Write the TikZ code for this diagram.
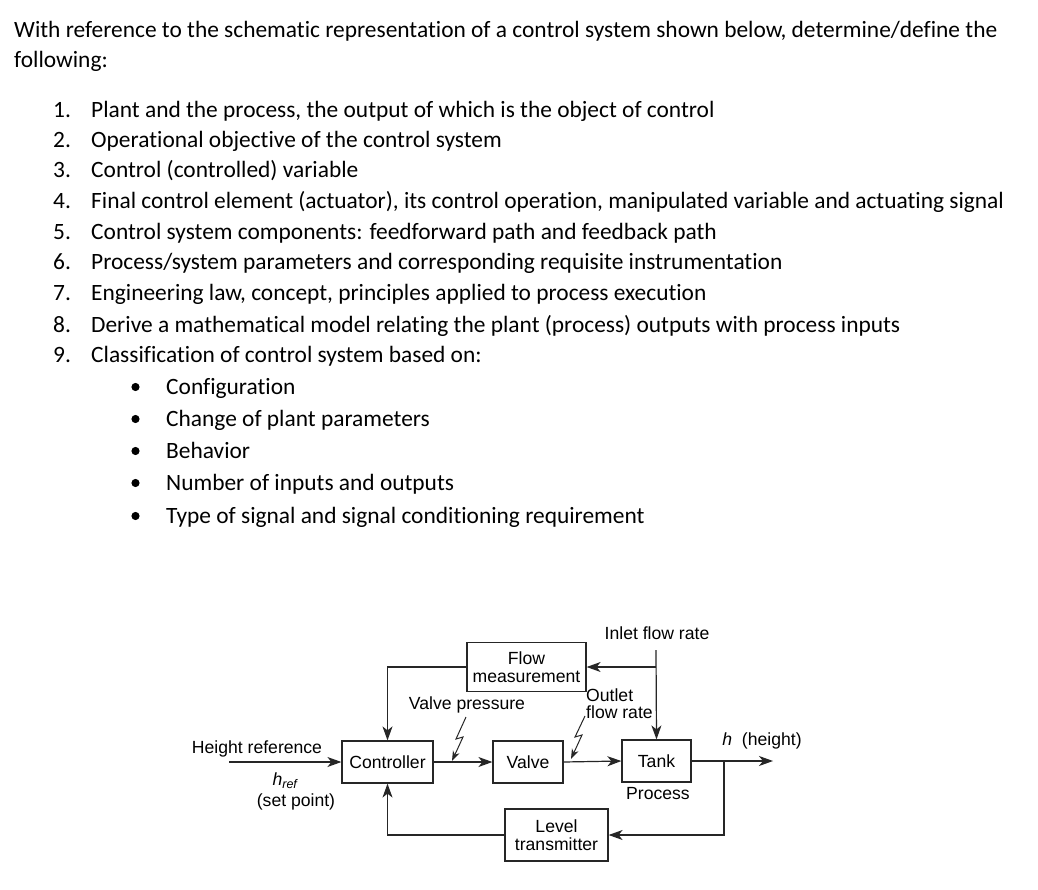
\documentclass[tikz,border=0pt]{standalone}
\usepackage{fontspec}
\setmainfont{Carlito}[Ligatures=NoCommon]
\newfontfamily\diafont{Liberation Sans}
\usetikzlibrary{arrows.meta}
\begin{document}
\begin{tikzpicture}[x=1pt,y=-1pt,
  body/.style={anchor=base west,inner sep=0pt,font=\fontsize{23.4}{28}\selectfont},
  dtext/.style={inner sep=0pt,font=\diafont\fontsize{17.6}{20}\selectfont,text=black,align=center},
  blk/.style={draw=black!85,line width=1.2pt,inner sep=0pt,font=\diafont\fontsize{17.6}{20}\selectfont,text=black,align=center},
  ln/.style={draw=black!85,line width=1.2pt},
  arr/.style={ln,-{Stealth[length=14pt,width=10pt,inset=4pt]}},
  zap/.style={draw=black!85,line width=1pt,-{Stealth[length=10pt,width=7pt,inset=3pt]}}]
\useasboundingbox[fill=white] (0,0) rectangle (1038,890);
% ---- question text ----
\node[body] (t1) at (14,38) {With reference to the schematic representation of a control system shown below, determine/define the};
\node[body] (t2) at (14,68) {following:};
\foreach \n/\y/\s in {
 1/118/{Plant and the process, the output of which is the object of control},
 2/148/{Operational objective of the control system},
 3/178/{Control (controlled) variable},
 4/209/{Final control element (actuator), its control operation, manipulated variable and actuating signal},
 5/240/{Control system components: feedforward path and feedback path},
 6/270/{Process/system parameters and corresponding requisite instrumentation},
 7/301/{Engineering law, concept, principles applied to process execution},
 8/332/{Derive a mathematical model relating the plant (process) outputs with process inputs},
 9/362/{Classification of control system based on:}}{
  \node[body] (n\n) at (53,\y) {\n.};
  \node[body] (i\n) at (91,\y) {\s};
}
\foreach \k/\y/\s in {
 1/394/{Configuration},
 2/426/{Change of plant parameters},
 3/458/{Behavior},
 4/490/{Number of inputs and outputs},
 5/523/{Type of signal and signal conditioning requirement}}{
  \fill (135.5,\y-7) circle (4.1);
  \node[body] (b\k) at (166,\y) {\s};
}
% ---- diagram ----
\node[blk,minimum width=91pt,minimum height=42pt] (ctrl) at (387.5,762) {Controller};
\node[blk,minimum width=70pt,minimum height=42pt] (valve) at (528,762) {Valve};
\node[blk,minimum width=69pt,minimum height=42pt] (tank) at (656.5,761) {Tank};
\node[blk,minimum width=119pt,minimum height=49pt] (flow) at (526.5,667) {Flow\\[-2pt]measurement};
\node[blk,minimum width=103pt,minimum height=52pt] (lt) at (556.5,835) {Level\\[-2pt]transmitter};

\node[dtext] (lhr) at (257,749) {Height reference};
\node[dtext] (lhref) at (285,781) {\itshape h\textsubscript{\fontsize{12.5}{12}\selectfont ref}};
\node[dtext] (lsp) at (296,802) {(set point)};
\node[dtext] (lvp) at (467,705) {Valve pressure};
\node[dtext] (lin) at (657,633) {Inlet flow rate};
\node[dtext,align=left,anchor=west] (lout) at (586,704) {Outlet\\[-3pt]flow rate};
\node[dtext] (lproc) at (658,794) {Process};
\node[dtext] (lh) at (762,741) {\itshape h\upshape\ \ (height)};

\coordinate (hin) at (229,762);
\coordinate (inlet) at (656,650);
\coordinate (br1) at (656,667);
\coordinate (br2) at (724,761);
\coordinate (hout) at (773,761);

\draw[arr] (hin) -- (ctrl.west);
\draw[arr] (ctrl.east) -- (valve.west);
\draw[arr] (valve.east) -- (tank.west);
\draw[arr] (tank.east) -- (hout);
\draw[arr] (inlet) -- (tank.north);
\draw[arr] (br1) -- (flow.east);
\draw[arr] (flow.west) -| (ctrl.north);
\draw[arr] (br2) |- (lt.east);
\draw[arr] (lt.west) -| (ctrl.south);

% lightning symbols
\draw[zap] (466,717) -- (456,739) -- (463,737) -- (452,761);
\draw[zap] (585,716) -- (575,737) -- (582,735) -- (571,759);
\end{tikzpicture}
\end{document}
